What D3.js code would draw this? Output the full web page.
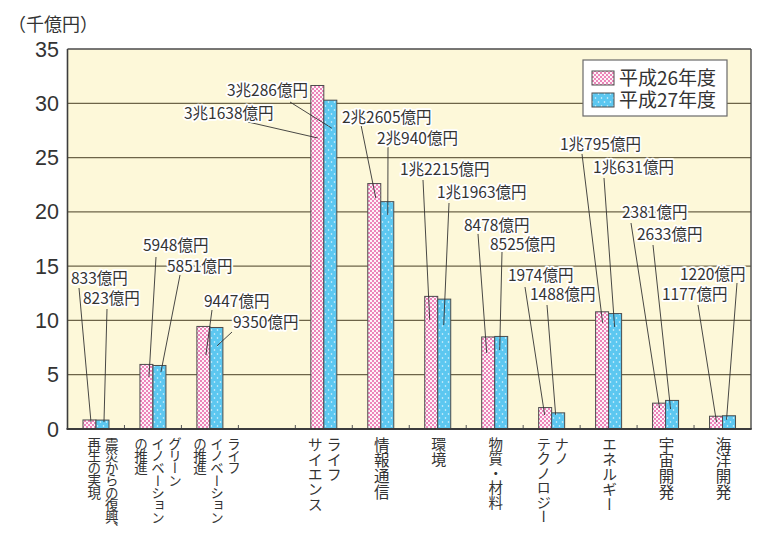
<!DOCTYPE html>
<html lang="ja">
<head>
<meta charset="utf-8">
<script src="https://cdn.jsdelivr.net/npm/d3@7"></script>
<style>
  html, body { margin: 0; padding: 0; background: #fff; }
  svg { display: block; }
  text { font-family: "Liberation Sans", "Noto Sans CJK JP", sans-serif; }
  .jp { font-family: "Noto Sans CJK JP", sans-serif; }
</style>
</head>
<body>
<svg id="chart" width="758" height="535"></svg>
<script>
// Category names, one entry per vertical text column (right column first)
const categories = [
  ["震災からの復興、", "再生の実現"],
  ["グリーン", "イノベーション", "の推進"],
  ["ライフ", "イノベーション", "の推進"],
  [],
  ["ライフ", "サイエンス"],
  ["情報通信"],
  ["環境"],
  ["物質・材料"],
  ["ナノ", "テクノロジー"],
  ["エネルギー"],
  ["宇宙開発"],
  ["海洋開発"]
];

const seriesNames = ["平成26年度", "平成27年度"];

// Budget in 千億円 (null = empty slot)
const values26 = [0.833, 5.948, 9.447, null, 31.638, 22.605, 12.215, 8.478, 1.974, 10.795, 2.381, 1.177];
const values27 = [0.823, 5.851, 9.350, null, 30.286, 20.940, 11.963, 8.525, 1.488, 10.631, 2.633, 1.220];

const labels26 = ["833億円", "5948億円", "9447億円", null, "3兆1638億円", "2兆2605億円", "1兆2215億円", "8478億円", "1974億円", "1兆795億円", "2381億円", "1177億円"];
const labels27 = ["823億円", "5851億円", "9350億円", null, "3兆286億円", "2兆940億円", "1兆1963億円", "8525億円", "1488億円", "1兆631億円", "2633億円", "1220億円"];

const yTicks = [0, 5, 10, 15, 20, 25, 30, 35];

// Callout placement: text left/centre, leader start, leader end offset from bar top centre
const callouts26 = [
  {tx: 71, ty: 278, sx: 79, sy: 288, dx: 1.5, depth: 2},
  {tx: 143, ty: 245, sx: 156, sy: 257, dx: 2.5, depth: 12.6},
  {tx: 204, ty: 301, sx: 212, sy: 310, dx: 2.5, depth: 28.6},
  null,
  {tx: 184, ty: 113, sx: 248, sy: 122, dx: 0.5, depth: 52.5},
  {tx: 342, ty: 117, sx: 361, sy: 125, dx: 1.5, depth: 14.4},
  {tx: 400, ty: 169, sx: 423, sy: 180, dx: -1.5, depth: 23.6},
  {tx: 464, ty: 225, sx: 478, sy: 234, dx: -1.5, depth: 16},
  {tx: 508, ty: 275, sx: 525, sy: 287, dx: -0.5, depth: 7.4},
  {tx: 560, ty: 144, sx: 582, sy: 154, dx: 0.5, depth: 11},
  {tx: 622, ty: 212, sx: 631, sy: 223, dx: 0.5, depth: 5},
  {tx: 662, ty: 294, sx: 698, sy: 305, dx: 0.5, depth: 6}
];
const callouts27 = [
  {tx: 83, ty: 298, sx: 107, sy: 309, dx: 1.5, depth: 2},
  {tx: 167, ty: 266, sx: 180, sy: 275, dx: 1.5, depth: 6.5},
  {tx: 233, ty: 322, sx: 232, sy: 332, dx: 0.5, depth: 18.5},
  null,
  {tx: 227, ty: 90, sx: 290, sy: 102, dx: 1.5, depth: 28},
  {tx: 377, ty: 138, sx: 388, sy: 147, dx: 0.5, depth: 13.3},
  {tx: 437, ty: 192, sx: 449, sy: 203, dx: -0.5, depth: 26},
  {tx: 490, ty: 244, sx: 502, sy: 252, dx: -1.5, depth: 13.6},
  {tx: 530, ty: 294, sx: 547, sy: 305, dx: -2.5, depth: 2},
  {tx: 593, ty: 167, sx: 604, sy: 178, dx: -0.5, depth: 13.4},
  {tx: 637, ty: 234, sx: 653, sy: 245, dx: -1.5, depth: 8.6},
  {tx: 680, ty: 274, sx: 737, sy: 283, dx: -2.5, depth: 4}
];

// Category name blocks: horizontal nudge, glyph size, glyph advance and column pitch
const nameShift = [7, 5, 7, 0, 1, 1, 1, 1, 1, 1, 1, 1];
const nameSize = [13.5, 13.5, 13.5, 15, 15, 15.5, 15, 14.5, 14.5, 15, 15.5, 15.5];
const nameAdvance = [12.2, 12.3, 12.3, 15, 15, 15.8, 15, 14.5, 14.5, 15, 15.8, 15.8];
const namePitch = [17.5, 17, 17, 18, 19, 18, 18, 18, 18, 18, 18, 18];

const svg = d3.select("#chart");
const plot = {left: 67.5, right: 751, top: 49, bottom: 429};
const barW = 13;

const x = d3.scaleBand().domain(d3.range(categories.length)).range([plot.left, plot.right]);
const y = d3.scaleLinear().domain([0, 35]).range([plot.bottom, plot.top]);

// Fill patterns
const defs = svg.append("defs");
const pPink = defs.append("pattern").attr("id", "pink").attr("patternUnits", "userSpaceOnUse")
  .attr("width", 4).attr("height", 4);
pPink.append("rect").attr("width", 4).attr("height", 4).attr("fill", "#fdf3f8");
pPink.append("rect").attr("width", 2).attr("height", 2).attr("fill", "#ec84b9");
pPink.append("rect").attr("x", 2).attr("y", 2).attr("width", 2).attr("height", 2).attr("fill", "#ec84b9");

const pBlue = defs.append("pattern").attr("id", "blue").attr("patternUnits", "userSpaceOnUse")
  .attr("width", 6).attr("height", 8);
pBlue.append("rect").attr("width", 6).attr("height", 8).attr("fill", "#5cc7f0");
pBlue.append("circle").attr("cx", 1.5).attr("cy", 2).attr("r", 0.8).attr("fill", "#e8f8ff");
pBlue.append("circle").attr("cx", 4.5).attr("cy", 6).attr("r", 0.8).attr("fill", "#e8f8ff");

// Plot background
svg.append("rect")
  .attr("x", plot.left).attr("y", plot.top)
  .attr("width", plot.right - plot.left).attr("height", plot.bottom - plot.top)
  .attr("fill", "#fdf8d9");

// Gridlines
svg.append("g").selectAll("line").data(yTicks.filter(t => t > 0)).join("line")
  .attr("x1", plot.left).attr("x2", plot.right)
  .attr("y1", d => y(d)).attr("y2", d => y(d))
  .attr("stroke", d => d === 35 ? "#4a4a4a" : "#6d6448").attr("stroke-width", d => d === 35 ? 1.5 : 1.2);

// Unit caption
svg.append("text").attr("class", "jp")
  .attr("x", 8).attr("y", 31)
  .attr("font-size", 18).attr("fill", "#333")
  .text("（千億円）");

// Y tick labels
svg.append("g").selectAll("text").data(yTicks).join("text")
  .attr("x", 59).attr("y", d => y(d) + 7.5)
  .attr("text-anchor", "end")
  .attr("font-size", 21.5).attr("fill", "#333")
  .text(d => d);

// Bars
const series = [
  {values: values26, fill: "url(#pink)", offset: -barW},
  {values: values27, fill: "url(#blue)", offset: 0}
];
series.forEach(s => {
  svg.append("g").selectAll("rect")
    .data(s.values.map((v, i) => ({v, i})).filter(d => d.v != null))
    .join("rect")
    .attr("x", d => x(d.i) + x.bandwidth() / 2 + s.offset)
    .attr("y", d => y(d.v))
    .attr("width", barW)
    .attr("height", d => y(0) - y(d.v))
    .attr("fill", s.fill)
    .attr("stroke", "#4d4d4d").attr("stroke-width", 1);
});

// Frame: left, right and bottom axis lines, with small inner ticks at category boundaries
svg.append("line").attr("x1", plot.left).attr("x2", plot.left).attr("y1", plot.top).attr("y2", plot.bottom)
  .attr("stroke", "#3c3c3c").attr("stroke-width", 1.6);
svg.append("line").attr("x1", plot.right).attr("x2", plot.right).attr("y1", plot.top).attr("y2", plot.bottom)
  .attr("stroke", "#4a4a4a").attr("stroke-width", 1.4);
svg.append("g").selectAll("line").data(d3.range(1, categories.length)).join("line")
  .attr("x1", d => x(d)).attr("x2", d => x(d))
  .attr("y1", plot.bottom - 4).attr("y2", plot.bottom)
  .attr("stroke", "#555").attr("stroke-width", 1);
svg.append("line").attr("x1", plot.left - 1).attr("x2", plot.right + 0.7).attr("y1", plot.bottom).attr("y2", plot.bottom)
  .attr("stroke", "#3c3c3c").attr("stroke-width", 2);

// Callout leaders and value labels
const calloutData = [];
[[values26, labels26, callouts26, -barW / 2], [values27, labels27, callouts27, barW / 2]].forEach(([vals, labs, cos, off]) => {
  vals.forEach((v, i) => {
    if (v == null) return;
    const c = cos[i];
    const cx = x(i) + x.bandwidth() / 2 + off;
    calloutData.push({text: labs[i], tx: c.tx, ty: c.ty, sx: c.sx, sy: c.sy, ex: cx + c.dx, ey: y(v) + c.depth});
  });
});

svg.append("g").selectAll("line").data(calloutData).join("line")
  .attr("x1", d => d.sx).attr("y1", d => d.sy)
  .attr("x2", d => d.ex).attr("y2", d => d.ey)
  .attr("stroke", "#333").attr("stroke-width", 0.9);

svg.append("g").selectAll("text").data(calloutData).join("text")
  .attr("class", "jp")
  .attr("x", d => d.tx).attr("y", d => d.ty + 5.5)
  .attr("font-size", 15.5).attr("fill", "#333")
  .attr("stroke", "#fff").attr("stroke-width", 3.5).attr("stroke-linejoin", "round")
  .attr("paint-order", "stroke")
  .text(d => d.text);

// Vertical category names, set glyph by glyph so the advance can be tightened
const catG = svg.append("g");
categories.forEach((cols, i) => {
  const n = cols.length;
  const center = x(i) + x.bandwidth() / 2 + nameShift[i];
  cols.forEach((col, j) => {
    const cx = center + ((n - 1) / 2 - j) * namePitch[i];
    catG.append("g").selectAll("text").data(Array.from(col)).join("text")
      .attr("class", "jp")
      .attr("x", cx)
      .attr("y", (ch, k) => 437 + k * nameAdvance[i])
      .style("writing-mode", "vertical-rl")
      .attr("font-size", nameSize[i]).attr("fill", "#333")
      .text(ch => ch);
  });
});

// Legend
const lg = svg.append("g");
lg.append("rect").attr("x", 583).attr("y", 60).attr("width", 144).attr("height", 56)
  .attr("fill", "#fff").attr("stroke", "#6a6a6a").attr("stroke-width", 1.2);
[["url(#pink)", seriesNames[0]], ["url(#blue)", seriesNames[1]]].forEach(([f, name], k) => {
  lg.append("rect").attr("x", 592).attr("y", 71 + k * 22).attr("width", 22).attr("height", 14)
    .attr("fill", f).attr("stroke", "#4d4d4d").attr("stroke-width", 1);
  lg.append("text").attr("class", "jp").attr("x", 619).attr("y", 85 + k * 22)
    .attr("font-size", 19).attr("fill", "#333").text(name);
});
</script>
</body>
</html>
